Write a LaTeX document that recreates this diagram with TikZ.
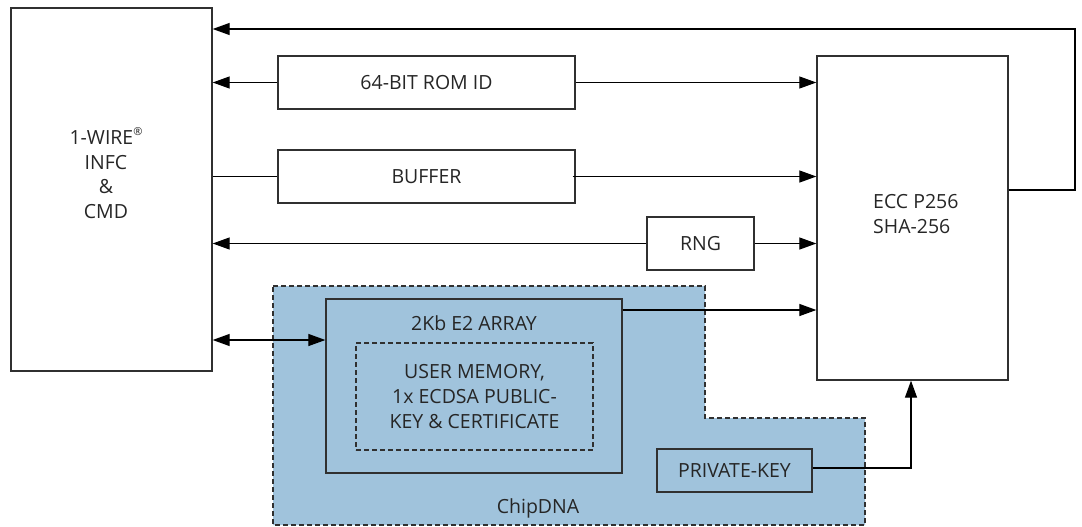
\documentclass[tikz,border=0pt]{standalone}
\usepackage{fontspec}
\setmainfont{Open Sans}
\usetikzlibrary{arrows.meta}
\definecolor{chipblue}{HTML}{A0C3DC}
\definecolor{linegray}{HTML}{303030}
\tikzset{
  blk/.style={draw=linegray, line width=1.3pt, rectangle, inner sep=0pt, align=center, font=\fontsize{19.5}{25}\selectfont, text=black!85},
  conn/.style={draw=black, line width=1.2pt},
  arr/.style={conn, -{Triangle[length=17pt,width=12pt]}},
  darr/.style={conn, {Triangle[length=17pt,width=12pt]}-{Triangle[length=17pt,width=12pt]}},
  dashbox/.style={dash pattern=on 5pt off 3pt},
  lbl/.style={inner sep=0pt, font=\fontsize{19.5}{24.5}\selectfont, text=black!85}
}
\begin{document}
\begin{tikzpicture}[x=1pt,y=-1pt]
\useasboundingbox (0,0) rectangle (1082,527);
% ChipDNA region
\fill[chipblue] (273,286) -- (705,286) -- (705,418) -- (865,418) -- (865,525) -- (273,525) -- cycle;
\draw[linegray, line width=1.2pt, dashbox] (273,286) -- (705,286) -- (705,418) -- (865,418) -- (865,525) -- (273,525) -- cycle;
\node[lbl] (chip) at (538,508) {ChipDNA};
% blocks
\node[blk, minimum width=201pt, minimum height=363pt] (wire) at (111.5,189.5) {};
\node[lbl, align=center] (wiretxt) at (106,173) {1-WIRE\raisebox{0.45em}{\fontsize{11}{11}\selectfont ®}\\INFC\\\&\\CMD};
\node[blk, minimum width=297pt, minimum height=53pt] (rom) at (426.5,82.5) {64-BIT ROM ID};
\node[blk, minimum width=297pt, minimum height=53pt] (buf) at (426.5,176.5) {BUFFER};
\node[blk, minimum width=107pt, minimum height=53pt] (rng) at (700.5,243.5) {RNG};
\node[blk, minimum width=191pt, minimum height=324pt] (ecc) at (912.5,218) {};
\node[lbl, align=left, anchor=west] (ecctxt) at (873,214) {ECC P256\\SHA-256};
\node[blk, minimum width=296pt, minimum height=174pt] (e2) at (474,386) {};
\node[lbl] (e2txt) at (474,323) {2Kb E2 ARRAY};
\node[blk, dashbox, minimum width=237pt, minimum height=107pt] (user) at (474.5,396.5) {USER MEMORY,\\1x ECDSA PUBLIC-\\KEY \& CERTIFICATE};
\node[blk, minimum width=155pt, minimum height=43pt] (pk) at (734.5,470.5) {PRIVATE-KEY};
% connectors
\coordinate (fbA) at (1075,190);
\coordinate (fbB) at (1075,29);
\draw[arr] (ecc.east |- fbA) -- (fbA) -- (fbB) -- (fbB -| wire.east);
\draw[arr] (rom.west) -- (rom.west -| wire.east);
\draw[arr] (rom.east) -- (rom.east -| ecc.west);
\draw[conn] (buf.west -| wire.east) -- (buf.west);
\draw[arr] ([xshift=-3pt]buf.east) -- (buf.east -| ecc.west);
\draw[arr] (rng.west) -- (rng.west -| wire.east);
\draw[arr] (rng.east) -- (rng.east -| ecc.west);
\coordinate (e2in) at (300,340);
\draw[darr] (e2in -| wire.east) -- (e2in -| e2.west);
\coordinate (e2out) at (700,310);
\draw[arr] (e2out -| e2.east) -- (e2out -| ecc.west);
\coordinate (pkc) at (911,468);
\draw[arr] (pkc -| pk.east) -- (pkc) -- (pkc |- ecc.south);
\end{tikzpicture}
\end{document}
